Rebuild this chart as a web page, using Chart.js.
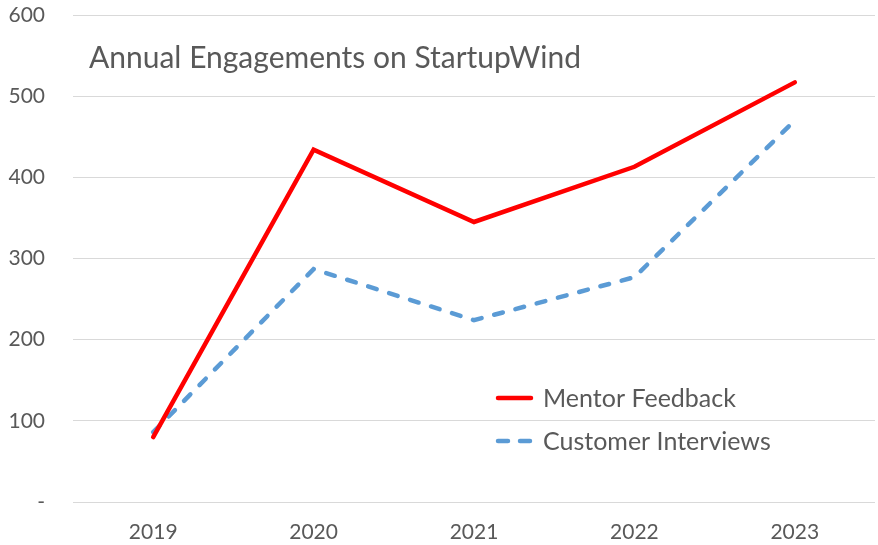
<!DOCTYPE html>
<html>
<head>
<meta charset="utf-8">
<script src="https://cdn.jsdelivr.net/npm/chart.js@4"></script>
<style>
  html, body { margin: 0; padding: 0; background: #fff; }
  #wrap { width: 878px; height: 545px; }
</style>
</head>
<body>
<div id="wrap"><canvas id="grafico"></canvas></div>
<script>
const years = ['2019', '2020', '2021', '2022', '2023']
const mentorFeedback = [80, 434, 345, 413, 517]
const customerInterviews = [86, 287, 224, 277, 470]
const yTicks = [0, 100, 200, 300, 400, 500, 600]

const titulo = 'Annual Engagements on StartupWind'
const fuente = 'Lato, "Open Sans", sans-serif'
const gris = '#595959'

// title and legend sit inside the plot area, so they are drawn by hand
const textoInterno = {
    id: 'textoInterno',
    afterDraw(chart) {
        const ctx = chart.ctx
        const area = chart.chartArea
        ctx.save()
        ctx.fillStyle = gris
        ctx.textBaseline = 'alphabetic'
        ctx.textAlign = 'left'
        ctx.font = '30px ' + fuente
        ctx.fillText(titulo, area.left + 16, 68)

        const items = chart.data.datasets
        items.forEach((ds, i) => {
            let y = 398 + i * 43
            ctx.beginPath()
            ctx.strokeStyle = ds.borderColor
            ctx.lineWidth = 4.5
            ctx.lineCap = 'round'
            ctx.setLineDash(ds.borderDash ? [10, 12] : [])
            ctx.moveTo(498, y)
            ctx.lineTo(531, y)
            ctx.stroke()
            ctx.setLineDash([])
            ctx.fillStyle = gris
            ctx.font = '25px ' + fuente
            ctx.textBaseline = 'middle'
            ctx.fillText(ds.label, 543, y + 1)
        })
        ctx.restore()
    }
}

let grafico = new Chart(document.getElementById('grafico'), {
    type: 'line',
    plugins: [textoInterno],
    data: {
        labels: years,
        datasets: [{
            label: 'Mentor Feedback',
            data: mentorFeedback,
            borderColor: '#ff0000',
            borderWidth: 4.5,
            borderCapStyle: 'round',
            pointRadius: 0,
            tension: 0,
        },
        {
            label: 'Customer Interviews',
            data: customerInterviews,
            borderColor: '#5b9bd5',
            borderWidth: 4.5,
            borderDash: [9, 13],
            borderCapStyle: 'round',
            pointRadius: 0,
            tension: 0,
        }]
    },
    options: {
        responsive: true,
        maintainAspectRatio: false,
        animation: false,
        layout: { padding: { top: 15, right: 3, left: 0, bottom: 0 } },
        plugins: {
            legend: { display: false },
            title: { display: false },
            tooltip: { enabled: false },
        },
        scales: {
            x: {
                offset: true,
                grid: { display: false, drawTicks: false },
                border: { display: false },
                ticks: {
                    color: gris,
                    font: { family: fuente, size: 21 },
                    padding: 18,
                },
                afterFit(scale) {
                    scale.height = 43
                    scale.paddingLeft = 0
                    scale.paddingRight = 0
                },
            },
            y: {
                min: 0,
                max: 600,
                afterBuildTicks(scale) { scale.ticks = yTicks.map(v => ({ value: v })) },
                grid: { color: '#d9d9d9', lineWidth: 1, drawTicks: false },
                border: { display: false },
                ticks: {
                    color: gris,
                    font: { family: fuente, size: 21 },
                    padding: 28,
                    callback: v => v === 0 ? '-' : v,
                },
                afterFit(scale) {
                    scale.width = 73
                    scale.paddingTop = 0
                    scale.paddingBottom = 0
                },
            },
        },
    },
})
</script>
</body>
</html>
